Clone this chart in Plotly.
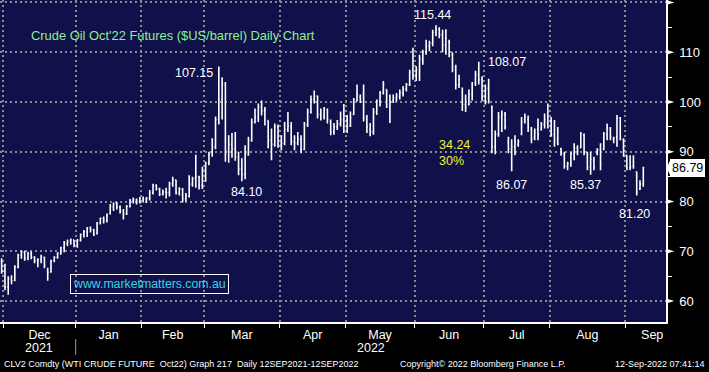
import plotly.graph_objects as go
import pandas as pd

# ---------------- data ----------------
holidays = ["2021-12-24", "2022-01-17", "2022-02-21", "2022-04-15",
            "2022-05-30", "2022-06-20", "2022-07-04", "2022-09-05"]
dates = pd.bdate_range("2021-11-30", "2022-09-09", freq="C", holidays=holidays)

opens = [
    68.0, 66.0, 62.8, 64.5, 64.2, 66.8, 69.2, 69.8, 68.6, 69.5, 68.8, 68.1, 68.3, 68.8, 66.2, 65.9, 68.1, 68.8, 69.6, 70.7, 71.6, 72.0, 72.3,
    71.5, 72.2, 73.4, 73.9, 74.7, 74.4, 73.6, 75.7, 76.6, 76.2, 77.6, 79.0, 79.5, 78.9, 78.1, 77.5, 79.0, 80.2, 80.3, 80.0,
    80.6, 80.4, 80.7, 81.8, 83.2, 82.6, 81.5, 81.9, 81.8, 83.6, 84.3, 81.8, 82.5, 80.6, 81.1, 83.5, 84.6, 84.9, 83.3,
    86.5, 87.8, 89.5, 91.0, 96.5, 100.5, 103.5, 90.0, 91.5, 90.5, 89.0, 86.5, 85.5, 89.5, 92.3, 96.0, 97.0, 99.0, 98.2, 96.3, 92.3, 91.5, 95.0,
    91.5, 91.7, 94.5, 95.2, 92.0, 91.8, 92.5, 90.5, 95.5, 98.0, 100.5, 101.2, 97.5, 97.2, 98.5, 96.0, 94.0, 95.0, 95.6, 96.5,
    96.5, 95.3, 97.5, 100.5, 101.0, 101.5, 96.5, 94.5, 94.0, 98.0, 100.2, 101.8, 102.5, 99.0, 100.3, 100.8, 101.0, 101.8, 102.6, 103.5, 106.5,
    105.5, 106.0, 108.5, 110.0, 111.2, 111.8, 114.0, 114.6, 113.5, 111.5, 112.0, 109.5, 106.5, 103.5, 102.0, 99.5, 99.5, 101.5, 103.8, 105.5, 104.5,
    101.0, 102.8, 99.0, 91.0, 93.5, 97.0, 97.5, 92.0, 90.5, 91.0, 91.5, 93.5, 96.5, 96.5, 94.5, 93.0, 94.5, 94.5, 95.5, 96.0,
    96.3, 93.5, 92.5, 90.5, 89.6, 87.0, 87.6, 89.5, 90.8, 90.8, 93.3, 89.5, 87.0, 88.3, 89.6, 90.5, 90.5, 93.5, 94.5, 92.5, 93.0, 96.8, 92.3,
    89.3, 86.8, 87.2, 86.0, 82.5, 83.6,
]
highs = [
    68.6, 67.5, 65.0, 65.2, 67.2, 69.5, 70.2, 70.1, 69.9, 70.0, 69.0, 68.6, 69.3, 68.9, 66.7, 68.3, 69.0, 69.8, 70.9, 72.1, 72.4, 72.6, 72.3,
    72.5, 73.6, 74.3, 74.9, 75.0, 74.5, 75.9, 76.8, 77.0, 77.6, 79.5, 79.8, 79.9, 79.2, 78.5, 79.3, 80.5, 80.8, 80.6, 80.9,
    81.0, 80.9, 82.3, 83.6, 83.5, 82.8, 82.4, 82.8, 84.0, 85.0, 84.4, 82.9, 82.7, 81.7, 85.3, 85.0, 89.4, 85.2, 87.0,
    88.0, 90.0, 92.7, 97.1, 107.15, 105.0, 104.0, 93.3, 93.8, 94.0, 90.0, 88.7, 91.3, 93.0, 96.7, 98.7, 99.7, 100.3, 99.0, 96.3, 94.7, 95.7, 95.5,
    93.3, 96.0, 98.0, 96.0, 93.3, 94.0, 93.3, 96.0, 98.7, 101.3, 102.3, 101.3, 98.7, 99.0, 98.7, 96.5, 95.8, 96.4, 98.1, 99.6,
    97.4, 98.1, 100.8, 103.5, 101.5, 103.5, 97.4, 95.8, 98.8, 100.5, 102.2, 104.2, 102.5, 101.5, 101.5, 101.8, 102.5, 103.2, 103.8, 106.5, 110.9,
    107.2, 109.5, 110.5, 112.5, 112.3, 114.5, 115.44, 115.0, 114.5, 114.6, 112.5, 110.0, 107.5, 105.5, 102.9, 101.5, 102.5, 104.0, 106.3, 108.07, 105.2,
    103.5, 104.7, 99.3, 94.3, 98.0, 98.3, 98.0, 93.0, 92.5, 93.3, 92.5, 97.0, 97.7, 97.3, 95.0, 94.7, 96.7, 96.0, 97.7, 99.7,
    97.0, 96.4, 95.0, 90.8, 90.0, 88.0, 90.0, 91.7, 91.3, 94.0, 93.7, 90.0, 90.0, 89.0, 90.7, 91.7, 94.0, 95.7, 95.0, 93.0, 97.4, 97.0, 92.7,
    89.3, 89.3, 89.3, 86.0, 84.3, 87.0,
]
lows = [
    65.5, 62.2, 61.3, 63.4, 64.0, 66.6, 68.5, 68.1, 68.2, 68.4, 67.6, 66.8, 67.6, 66.6, 64.1, 65.7, 67.8, 68.5, 69.3, 69.8, 71.0, 71.3, 70.8,
    70.7, 72.0, 72.8, 72.9, 73.8, 73.1, 73.4, 75.4, 75.6, 75.8, 77.4, 78.1, 78.4, 77.6, 76.4, 77.3, 78.8, 79.6, 79.4, 79.6,
    79.8, 79.7, 80.2, 81.4, 82.2, 81.1, 81.2, 80.6, 81.0, 83.0, 81.4, 81.2, 79.8, 80.0, 80.8, 83.0, 82.8, 82.4, 82.5,
    84.0, 87.3, 89.0, 90.5, 95.5, 96.5, 88.0, 87.8, 88.8, 88.2, 85.3, 84.1, 84.5, 89.2, 92.0, 95.7, 96.0, 97.3, 95.3, 90.7, 88.3, 91.0, 90.8,
    90.3, 91.3, 94.0, 91.3, 90.3, 91.3, 89.7, 90.3, 95.0, 97.7, 99.7, 96.7, 96.3, 96.5, 95.7, 93.3, 93.4, 94.4, 95.1, 93.8,
    93.8, 95.0, 97.4, 100.1, 99.8, 96.1, 93.8, 93.1, 93.4, 97.4, 99.1, 101.5, 98.8, 95.8, 99.8, 100.1, 100.5, 101.1, 102.1, 103.2, 104.5,
    104.2, 104.2, 107.5, 109.5, 110.2, 111.2, 113.2, 112.8, 110.0, 109.5, 109.0, 106.0, 102.5, 102.8, 98.2, 98.0, 99.3, 100.3, 103.2, 103.5, 100.2,
    99.5, 99.7, 89.7, 89.5, 93.0, 94.0, 94.5, 89.7, 86.07, 89.3, 91.0, 93.3, 95.7, 94.0, 91.7, 92.3, 92.3, 94.3, 94.7, 94.7,
    93.0, 91.0, 91.3, 89.2, 86.6, 86.3, 87.0, 88.3, 89.3, 90.7, 89.3, 86.3, 85.37, 86.3, 89.3, 86.3, 90.3, 92.3, 92.3, 91.7, 91.0, 92.3, 89.0,
    86.3, 86.3, 86.6, 81.2, 82.3, 83.0,
]
closes = [
    66.0, 62.8, 64.5, 64.0, 66.8, 69.2, 69.8, 68.6, 69.5, 68.8, 68.1, 68.3, 68.8, 67.2, 65.8, 68.1, 68.8, 69.6, 70.7, 71.6, 72.0, 72.3, 71.5,
    72.2, 73.4, 73.9, 74.7, 74.4, 73.5, 75.7, 76.6, 76.2, 77.4, 79.0, 79.5, 78.9, 78.1, 77.5, 79.0, 80.2, 80.3, 80.0, 80.6,
    80.4, 80.7, 81.8, 83.2, 82.6, 81.5, 81.9, 81.8, 83.6, 84.3, 81.8, 82.5, 80.6, 81.1, 83.5, 84.6, 84.9, 83.3, 86.5,
    87.8, 89.5, 91.0, 96.5, 100.5, 103.5, 90.0, 91.5, 90.5, 89.0, 86.5, 85.5, 89.5, 92.3, 96.0, 97.0, 99.0, 98.2, 98.5, 92.3, 91.5, 95.0, 91.5,
    91.7, 94.5, 95.2, 92.0, 91.8, 92.5, 90.5, 95.5, 98.0, 100.5, 101.2, 97.5, 97.2, 98.5, 96.5, 94.0, 95.0, 95.6, 96.5, 97.1,
    95.0, 96.8, 100.3, 101.5, 100.6, 96.8, 95.0, 94.0, 98.0, 100.2, 101.8, 103.6, 99.5, 100.0, 100.8, 101.3, 101.8, 102.6, 103.5, 106.0, 105.5,
    106.5, 108.8, 110.0, 111.2, 111.8, 114.0, 114.6, 113.5, 111.5, 112.8, 109.5, 107.0, 103.5, 104.5, 99.5, 99.0, 101.5, 103.5, 105.5, 104.5, 101.0,
    102.5, 100.3, 91.0, 93.5, 97.0, 97.5, 95.0, 90.5, 91.0, 92.0, 92.0, 96.0, 97.0, 95.0, 92.5, 94.0, 93.5, 95.5, 96.5, 97.0,
    93.5, 92.0, 91.6, 89.6, 87.2, 87.6, 89.6, 90.8, 90.0, 93.5, 90.0, 86.8, 88.5, 87.0, 90.3, 87.5, 93.5, 94.8, 93.0, 92.8, 96.8, 92.5, 89.5,
    86.8, 87.0, 87.0, 81.9, 83.5, 86.79,
]

price_ticks = [60, 70, 80, 90, 100, 110, 120]
price_minor = [65, 75, 85, 95, 105, 115]
month_names = ["Jan", "Feb", "Mar", "Apr", "May", "Jun", "Jul", "Aug", "Sep", "Oct", "Nov", "Dec"]

# labels: (text, bar index position, price level, colour, anchor)
callouts = [
    ("107.15", 58.5, 105.8, "white", "center"),
    ("84.10", 74.3, 82.0, "white", "center"),
    ("115.44", 131.0, 117.4, "white", "center"),
    ("108.07", 153.6, 108.05, "white", "center"),
    ("34.24", 132.4, 91.4, "#f4f42a", "left"),
    ("30%", 132.4, 88.1, "#f4f42a", "left"),
    ("86.07", 155.0, 83.4, "white", "center"),
    ("85.37", 177.3, 83.4, "white", "center"),
    ("81.20", 192.3, 77.6, "white", "center"),
]

# ---------------- derived axis helpers ----------------
n = len(dates)
xs = list(range(n))
X_MIN, X_MAX = -0.5, 201.9
Y_MIN, Y_MAX = 55.8, 120.5

bounds = [i - 0.5 for i in range(1, n) if dates[i].month != dates[i - 1].month]
bound_months = [dates[i].month for i in range(1, n) if dates[i].month != dates[i - 1].month]
bound_years = [dates[i].year for i in range(1, n) if dates[i].month != dates[i - 1].month]
label_pos, label_txt = [], []
for k, b in enumerate(bounds):
    if k + 1 < len(bounds):
        label_pos.append((b + bounds[k + 1]) / 2)
    else:
        label_pos.append((b + X_MAX) / 2 + 2)
    label_txt.append(month_names[bound_months[k] - 1])

FONT = "Liberation Sans, Arial, sans-serif"

fig = go.Figure()
fig.add_trace(go.Ohlc(
    x=xs, open=opens, high=highs, low=lows, close=closes,
    increasing=dict(line=dict(color="white", width=1.6)),
    decreasing=dict(line=dict(color="white", width=1.6)),
    tickwidth=0.3, hoverinfo="skip", showlegend=False,
))

annotations = []
for txt, xv, yv, col, anc in callouts:
    annotations.append(dict(x=xv, y=yv, xref="x", yref="y", text=txt, showarrow=False,
                            xanchor=anc, yanchor="middle",
                            font=dict(family=FONT, size=12.5, color=col)))

# title
annotations.append(dict(x=29.3 / 666, y=(322 - 35) / 322, xref="paper", yref="paper",
                        text="Crude Oil Oct'22 Futures ($US/barrel) Daily Chart",
                        showarrow=False, xanchor="left", yanchor="middle",
                        font=dict(family=FONT, size=12.9, color="#8ff08f")))
# watermark
annotations.append(dict(x=44.8, y=63.4, xref="x", yref="y", text="www.marketmatters.com.au",
                        showarrow=False, xanchor="center", yanchor="middle",
                        font=dict(family=FONT, size=12.3, color="#35d4e2"),
                        bordercolor="white", borderwidth=1, borderpad=2))
# last price tag
annotations.append(dict(x=1.006, y=closes[-1], xref="paper", yref="y", text=f"{closes[-1]:.2f}",
                        showarrow=False, xanchor="left", yanchor="middle",
                        font=dict(family=FONT, size=12.5, color="black"),
                        bgcolor="white", bordercolor="white", borderwidth=1, borderpad=1))

# year labels
years = sorted(set(bound_years))
for yr in years:
    starts = [b for b, y_ in zip(bounds, bound_years) if y_ == yr]
    nxt = [b for b, y_ in zip(bounds, bound_years) if y_ == yr + 1]
    lo = starts[0]
    hi = nxt[0] if nxt else X_MAX
    annotations.append(dict(x=(lo + hi) / 2, y=-0.081, xref="x", yref="paper", text=str(yr),
                            showarrow=False, xanchor="center", yanchor="middle",
                            font=dict(family=FONT, size=12.5, color="white")))

# footer
foot_y = -0.131
annotations.append(dict(x=0.003, y=foot_y, xref="paper", yref="paper",
                        text="CLV2 Comdty (WTI CRUDE FUTURE  Oct22) Graph 217  Daily 12SEP2021-12SEP2022",
                        showarrow=False, xanchor="left", yanchor="middle",
                        font=dict(family=FONT, size=9, color="white")))
annotations.append(dict(x=397.7 / 666, y=foot_y, xref="paper", yref="paper",
                        text="Copyright\u00a9 2022 Bloomberg Finance L.P.",
                        showarrow=False, xanchor="left", yanchor="middle",
                        font=dict(family=FONT, size=9, color="white")))
annotations.append(dict(x=707 / 666, y=foot_y, xref="paper", yref="paper",
                        text="12-Sep-2022 07:41:14",
                        showarrow=False, xanchor="right", yanchor="middle",
                        font=dict(family=FONT, size=9, color="white")))

shapes = []
# arrow heads on the price axis
for v in price_ticks:
    shapes.append(dict(type="path", xref="paper", yref="y",
                       path=f"M 1,{v + 0.5} L 1.0125,{v} L 1,{v - 0.5} Z",
                       fillcolor="white", line=dict(color="white", width=0)))
# pointer of the last price tag
shapes.append(dict(type="path", xref="paper", yref="y",
                   path=f"M 1.001,{closes[-1]} L 1.0065,{closes[-1] + 1.6} L 1.0065,{closes[-1] - 1.6} Z",
                   fillcolor="white", line=dict(color="white", width=0)))
# year separator
jan_bounds = [b for b, m in zip(bounds, bound_months) if m == 1]
for b in jan_bounds:
    shapes.append(dict(type="line", xref="x", yref="paper", x0=b, x1=b, y0=-0.053, y1=-0.102,
                       line=dict(color="#9a9a9a", width=1)))

GRID = "#8c8c8c"
fig.update_layout(
    width=709, height=372,
    margin=dict(l=0, r=43, t=0, b=50),
    paper_bgcolor="black", plot_bgcolor="#10104a",
    showlegend=False,
    font=dict(family=FONT, color="white", size=12.5),
    annotations=annotations, shapes=shapes,
    xaxis=dict(
        range=[X_MIN, X_MAX], tickmode="array", tickvals=label_pos, ticktext=label_txt,
        ticks="", showgrid=False, zeroline=False, showline=True, linecolor="white", linewidth=1.5,
        tickfont=dict(family=FONT, size=12.5, color="white"),
        rangeslider=dict(visible=False), fixedrange=True,
        minor=dict(tickmode="array", tickvals=bounds, ticks="outside", ticklen=4,
                   tickcolor="white", tickwidth=1, showgrid=True, gridcolor=GRID,
                   griddash="2px,3px", gridwidth=2),
    ),
    yaxis=dict(
        side="right", range=[Y_MIN, Y_MAX], tickmode="array", tickvals=price_ticks,
        ticktext=[str(v) for v in price_ticks],
        ticks="outside", ticklen=9, tickcolor="rgba(0,0,0,0)",
        showgrid=True, gridcolor=GRID, griddash="2px,3px", gridwidth=2,
        zeroline=False, showline=True, linecolor="white", linewidth=1.5,
        tickfont=dict(family=FONT, size=13, color="white"), fixedrange=True,
        minor=dict(tickmode="array", tickvals=price_minor, ticks="outside", ticklen=4,
                   tickcolor="white", tickwidth=1, showgrid=False),
    ),
)

fig.write_html(
    "out.html",
    config={"displayModeBar": False},
    post_script="document.body.style.margin='0';document.body.style.overflow='hidden';",
)
